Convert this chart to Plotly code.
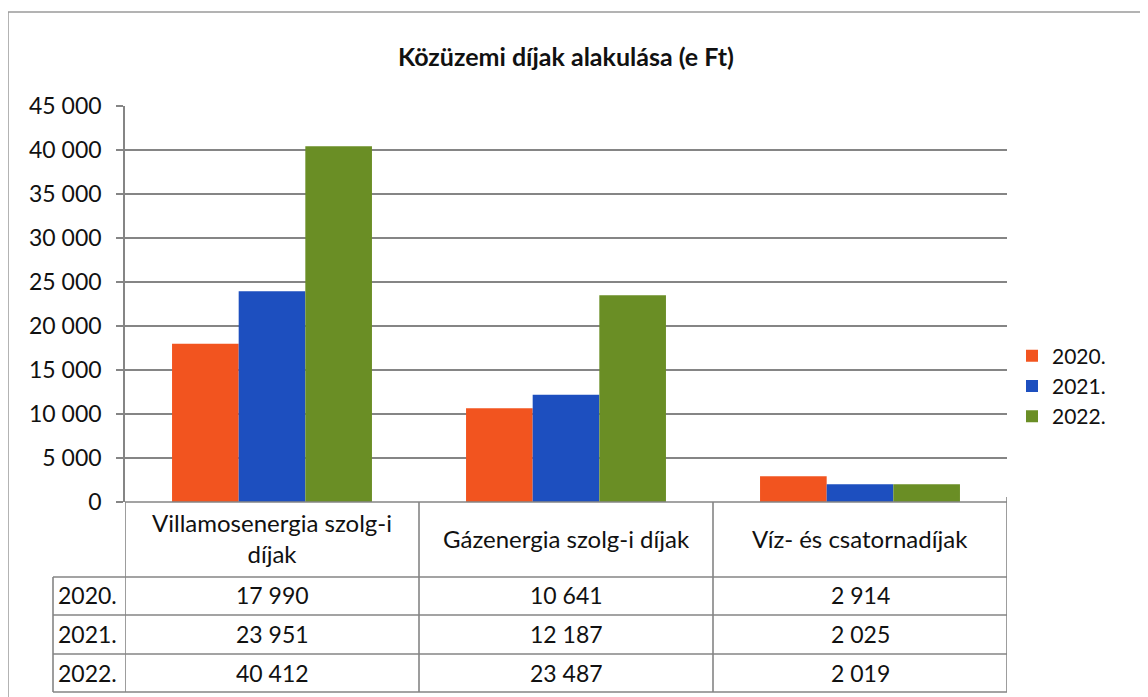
import plotly.graph_objects as go

# ---------------- data ----------------
categories = ["Villamosenergia szolg-i<br>díjak", "Gázenergia szolg-i díjak", "Víz- és csatornadíjak"]
years = ["2020.", "2021.", "2022."]
values_2020 = [17990, 10641, 2914]
values_2021 = [23951, 12187, 2025]
values_2022 = [40412, 23487, 2019]
series_values = [values_2020, values_2021, values_2022]
colors = ["#F2541F", "#1D4FBF", "#6A8E25"]
y_ticks = [0, 5000, 10000, 15000, 20000, 25000, 30000, 35000, 40000, 45000]
title_text = "Közüzemi díjak alakulása (e Ft)"

# ---------------- layout geometry (screen pixels) ----------------
W, H = 1148, 697
OFF = 8                                # page body margin
PL, PR, PT, PB = 125, 1007, 106, 502   # plot area edges on screen
FONT = "Lato, Carlito, 'Open Sans', sans-serif"
TXT = "#111111"
LINE = "#858585"


def py(p):  # screen pixel y -> paper y
    return (PB - p) / (PB - PT)


def px(p):  # screen pixel x -> paper x
    return (p - PL) / (PR - PL)


x_idx = list(range(len(categories)))

fig = go.Figure()
for name, vals, col in zip(years, series_values, colors):
    fig.add_trace(go.Bar(x=x_idx, y=vals, name=name, marker=dict(color=col, line=dict(width=0)),
                         legendgroup=name))

shapes = []
annotations = []

# table grid: vertical category separators (data x coordinates)
row_lines_px = [577, 615, 654, 692]
last_b = len(categories) - 0.5
for b in [-0.5 + i for i in range(len(categories) + 1)]:
    shapes.append(dict(type="line", xref="x", yref="paper", x0=b, x1=b,
                       y0=py(497 if b == last_b else PB), y1=py(row_lines_px[-1]),
                       line=dict(color=LINE, width=1.6)))
# horizontal lines of table
for rp in row_lines_px:
    shapes.append(dict(type="line", xref="paper", yref="paper", x0=px(53), x1=1.0,
                       y0=py(rp), y1=py(rp), line=dict(color=LINE, width=1.6)))
# header top (x axis line)
shapes.append(dict(type="line", xref="paper", yref="paper", x0=0, x1=1.0,
                   y0=py(PB), y1=py(PB), line=dict(color=LINE, width=1.6)))
# left label column border
shapes.append(dict(type="line", xref="paper", yref="paper", x0=px(53), x1=px(53),
                   y0=py(row_lines_px[0]), y1=py(row_lines_px[-1]), line=dict(color=LINE, width=1.6)))
# outer chart border (scan frame)
shapes.append(dict(type="rect", xref="paper", yref="paper", x0=px(8), x1=px(1141),
                   y0=py(712), y1=py(12), line=dict(color="#9a9a9a", width=1.5), layer="below"))

# header labels
for i, c in enumerate(categories):
    annotations.append(dict(x=i, y=py(538), xref="x", yref="paper", text=c, showarrow=False,
                            font=dict(family=FONT, size=24, color=TXT), align="center",
                            xanchor="center", yanchor="middle"))
# row labels and values
row_centers_px = [595, 634, 673]
for r, (name, vals) in enumerate(zip(years, series_values)):
    annotations.append(dict(x=px(56), y=py(row_centers_px[r]), xref="paper", yref="paper", text=name,
                            showarrow=False, font=dict(family=FONT, size=23, color=TXT),
                            xanchor="left", yanchor="middle"))
    for i, v in enumerate(vals):
        annotations.append(dict(x=i, y=py(row_centers_px[r]), xref="x", yref="paper",
                                text=f"{v:,}".replace(",", " "), showarrow=False,
                                font=dict(family=FONT, size=23, color=TXT),
                                xanchor="center", yanchor="middle"))

fig.update_layout(
    width=W, height=H,
    margin=dict(l=PL - OFF, r=W - PR + OFF, t=PT - OFF, b=H - PB + OFF, pad=0),
    paper_bgcolor="white", plot_bgcolor="white",
    separators=", ",
    title=dict(text=f"<b>{title_text}</b>", x=0.5, xref="paper", y=1 - (57 - OFF) / H, yanchor="middle",
               font=dict(family=FONT, size=25, color=TXT)),
    barmode="group", bargap=0.32, bargroupgap=0,
    xaxis=dict(range=[-0.5, len(categories) - 0.5], showticklabels=False, ticks="", showgrid=False,
               zeroline=False, showline=False),
    yaxis=dict(range=[0, 45000], tickvals=y_ticks, tickformat=",", showgrid=True, gridcolor=LINE,
               gridwidth=1.6, zeroline=False, showline=True, linecolor=LINE, linewidth=1.6,
               ticks="outside", ticklen=7, tickcolor=LINE, tickwidth=1.5, ticklabelstandoff=10,
               tickfont=dict(family=FONT, size=23, color=TXT)),
    legend=dict(x=px(1012), y=py(386), xanchor="left", yanchor="middle",
                font=dict(family=FONT, size=21, color=TXT), tracegroupgap=7,
                traceorder="normal", itemwidth=30, bgcolor="rgba(0,0,0,0)"),
    shapes=shapes, annotations=annotations,
)

fig.write_html("out.html")
